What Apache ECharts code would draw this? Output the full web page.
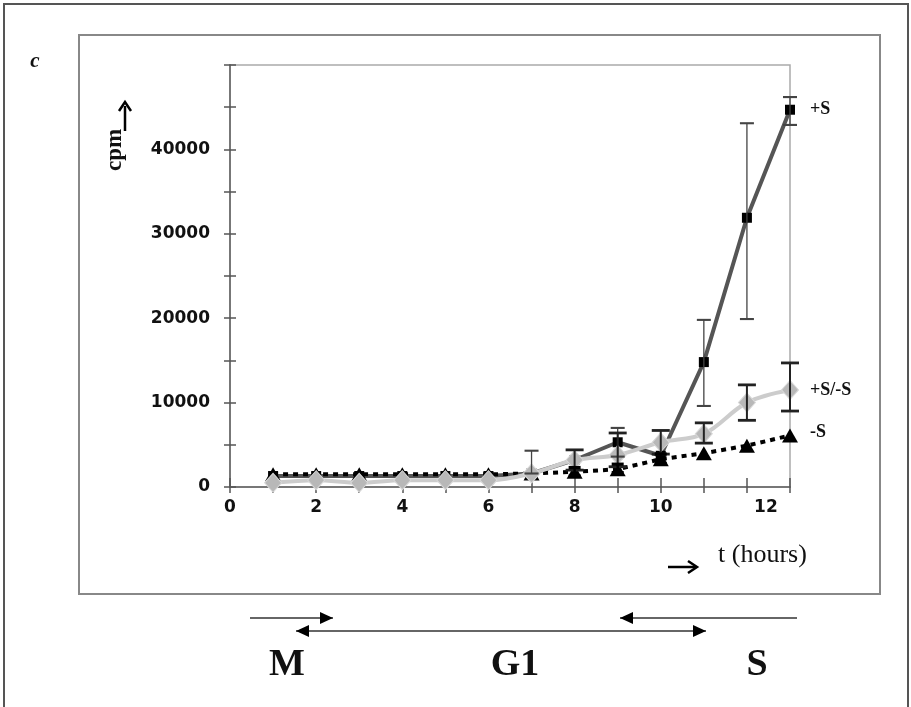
<!DOCTYPE html>
<html>
<head>
<meta charset="utf-8">
<script src="https://cdn.jsdelivr.net/npm/echarts@6/dist/echarts.min.js"></script>
<style>
html,body{margin:0;padding:0;background:#fff;}
#chart{width:911px;height:707px;}
</style>
</head>
<body>
<div id="chart"></div>
<script>
// ---- data ----
const hours = [1,2,3,4,5,6,7,8,9,10,11,12,13];
const xTickLabels = ['0','2','4','6','8','10','12'];
const yTickLabels = ['0','10000','20000','30000','40000'];
const seriesNames = ['+S', '+S/-S', '-S'];
const plusS      = [1300,1300,1300,1300,1300,1300,1600,3200,5300,3700,14800,31900,44700];
const plusMinusS = [500, 800, 500, 800, 800, 800, 1600,3200,3800,5300,6300,10000,11500];
const minusS     = [1500,1500,1500,1500,1500,1500,1600,1800,2100,3300,4000,4900,6100];
// error bars (low / high), null = none
const plusSErrLow   = [null,null,null,null,null,null,1600,null,3600,null,9600,19900,42900];
const plusSErrHigh  = [null,null,null,null,null,null,4300,null,7000,null,19800,43100,46200];
const pmErrLow      = [null,null,null,null,null,null,null,2000,2400,3900,5200,7900,9000];
const pmErrHigh     = [null,null,null,null,null,null,null,4400,6400,6700,7600,12100,14700];
const minusErrLow   = [null,null,null,null,null,null,null,1300,1700,2800,null,null,null];
const minusErrHigh  = [null,null,null,null,null,null,null,2300,2700,3900,null,null,null];

function toPairs(vals){ return hours.map((h,i)=>[h, vals[i]]); }
function toErr(lo, hi){
  const out = [];
  hours.forEach((h,i)=>{ if(hi[i]!=null) out.push([h, lo[i], hi[i]]); });
  return out;
}
function errSeries(data, color, width, cap){
  return {
    type:'custom',
    data: data,
    encode:{x:0, y:[1,2]},
    z: 5,
    silent:true,
    renderItem: function(params, api){
      const x = api.value(0);
      const p1 = api.coord([x, api.value(2)]);
      const p2 = api.coord([x, api.value(1)]);
      const st = {stroke: color, lineWidth: width};
      return {type:'group', children:[
        {type:'line', shape:{x1:p1[0], y1:p1[1], x2:p2[0], y2:p2[1]}, style:st},
        {type:'line', shape:{x1:p1[0]-cap, y1:p1[1], x2:p1[0]+cap, y2:p1[1]}, style:{stroke:color, lineWidth: width+0.8}},
        {type:'line', shape:{x1:p2[0]-cap, y1:p2[1], x2:p2[0]+cap, y2:p2[1]}, style:{stroke:color, lineWidth: width+0.8}}
      ]};
    }
  };
}

const numFont = {fontFamily:'DejaVu Sans', fontWeight:'bold', fontSize:17, color:'#111'};
const endLabelFont = {fontFamily:'Liberation Serif', fontWeight:'bold', fontSize:18, color:'#111'};

const chart = echarts.init(document.getElementById('chart'), null, {renderer:'canvas'});

function arrowH(x1, x2, y, headLeft, headRight){
  const els = [{type:'line', shape:{x1:x1, y1:y, x2:x2, y2:y}, style:{stroke:'#666', lineWidth:2}}];
  if(headRight) els.push({type:'polygon', shape:{points:[[x2,y],[x2-13,y-6],[x2-13,y+6]]}, style:{fill:'#000'}});
  if(headLeft) els.push({type:'polygon', shape:{points:[[x1,y],[x1+13,y-6],[x1+13,y+6]]}, style:{fill:'#000'}});
  return els;
}

const graphics = [
  {type:'rect', shape:{x:4, y:4, width:904, height:730}, style:{fill:null, stroke:'#555', lineWidth:2}, silent:true},
  {type:'rect', shape:{x:79, y:35, width:801, height:559}, style:{fill:null, stroke:'#888', lineWidth:2}, silent:true},
  {type:'text', x:35, y:62, style:{text:'c', font:'italic bold 21px "Liberation Serif"', fill:'#111', textAlign:'center', textVerticalAlign:'middle'}},
  {type:'text', x:115, y:150, rotation:Math.PI/2, style:{text:'cpm', font:'bold 23px "Liberation Serif"', fill:'#111', textAlign:'center', textVerticalAlign:'middle'}},
  {type:'line', shape:{x1:125, y1:131, x2:125, y2:106}, style:{stroke:'#000', lineWidth:2.5}},
  {type:'polyline', shape:{points:[[119,111],[125,102],[131,111]]}, style:{stroke:'#000', lineWidth:2.5, fill:null}},
  {type:'text', x:718, y:555, style:{text:'t (hours)', font:'26px "Liberation Serif"', fill:'#111', textAlign:'left', textVerticalAlign:'middle'}},
  {type:'line', shape:{x1:668, y1:567, x2:695, y2:567}, style:{stroke:'#000', lineWidth:2.5}},
  {type:'polyline', shape:{points:[[688,561],[697,567],[688,573]]}, style:{stroke:'#000', lineWidth:2.5, fill:null}},
  {type:'text', x:287, y:665, style:{text:'M', font:'bold 38px "Liberation Serif"', fill:'#111', textAlign:'center', textVerticalAlign:'middle'}},
  {type:'text', x:515, y:665, style:{text:'G1', font:'bold 38px "Liberation Serif"', fill:'#111', textAlign:'center', textVerticalAlign:'middle'}},
  {type:'text', x:757, y:665, style:{text:'S', font:'bold 38px "Liberation Serif"', fill:'#111', textAlign:'center', textVerticalAlign:'middle'}}
].concat(arrowH(250, 333, 618, false, true))
 .concat(arrowH(296, 706, 631, true, true))
 .concat(arrowH(620, 797, 618, true, false));

const option = {
  animation:false,
  backgroundColor:'#fff',
  grid:{left:230, top:65, right:121, bottom:220, show:true, borderColor:'#aaa', borderWidth:1.5},
  xAxis:[
    {type:'value', min:0, max:13, interval:1,
     axisLine:{show:true, lineStyle:{color:'#777', width:2}},
     axisTick:{show:true, inside:false, length:6, lineStyle:{color:'#555', width:1.5}},
     splitLine:{show:false},
     axisLabel:{show:true, margin:12, ...numFont,
       formatter:function(v){ const s = String(v); if(xTickLabels.indexOf(s) < 0) return ''; return v===12 ? '{s|12}' : s; },
       rich:{s:{...numFont, padding:[0,0,0,38]}}}
    },
    {type:'value', min:0, max:13, interval:1, position:'bottom',
     axisLine:{show:false}, axisLabel:{show:false}, splitLine:{show:false},
     axisTick:{show:true, inside:true, length:9, lineStyle:{color:'#555', width:1.5}}}
  ],
  yAxis:[
    {type:'value', min:0, max:50000, interval:5000,
     axisLine:{show:true, lineStyle:{color:'#777', width:2}},
     axisTick:{show:true, inside:false, length:6, lineStyle:{color:'#555', width:1.5}},
     splitLine:{show:false},
     axisLabel:{show:true, margin:20, ...numFont,
       formatter:function(v){ const s = String(v); return yTickLabels.indexOf(s) >= 0 ? s : ''; }}
    },
    {type:'value', min:0, max:50000, interval:5000, position:'left',
     axisLine:{show:false}, axisLabel:{show:false}, splitLine:{show:false},
     axisTick:{show:true, inside:true, length:6, lineStyle:{color:'#555', width:1.5}}}
  ],
  series:[
    {name:seriesNames[0], type:'line', data:toPairs(plusS), z:2,
     lineStyle:{color:'#555', width:4}, symbol:'rect', symbolSize:10,
     itemStyle:{color:'#000'},
     endLabel:{show:true, formatter:seriesNames[0], distance:20, ...endLabelFont}},
    {name:seriesNames[2], type:'line', data:toPairs(minusS), z:3,
     lineStyle:{color:'#000', width:4, type:[5,5]}, symbol:'triangle', symbolSize:[16,14],
     itemStyle:{color:'#000'},
     endLabel:{show:true, formatter:seriesNames[2], distance:20, offset:[0,-3], ...endLabelFont}},
    {name:seriesNames[1], type:'line', data:toPairs(plusMinusS), z:4, smooth:0.35,
     lineStyle:{color:'#cccccc', width:4}, symbol:'diamond', symbolSize:[17,19],
     itemStyle:{color:'#b8b8b8', borderColor:'#d8d8d8', borderWidth:1},
     endLabel:{show:true, formatter:seriesNames[1], distance:20, ...endLabelFont}},
    errSeries(toErr(plusSErrLow, plusSErrHigh), '#444', 1.3, 7),
    errSeries(toErr(pmErrLow, pmErrHigh), '#222', 2, 9),
    errSeries(toErr(minusErrLow, minusErrHigh), '#000', 2.5, 6)
  ],
  graphic: graphics
};
chart.setOption(option);
</script>
</body>
</html>
